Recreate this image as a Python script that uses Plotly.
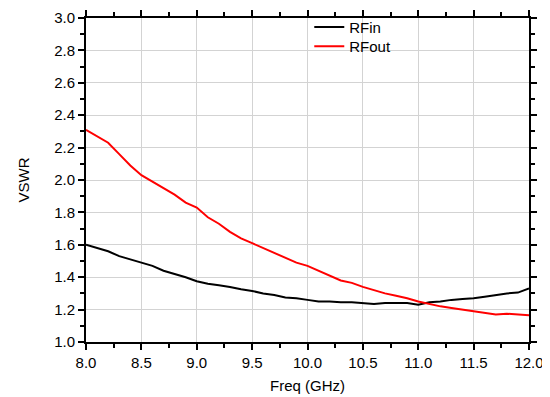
import plotly.graph_objects as go

freq = [8.0, 8.1, 8.2, 8.3, 8.4, 8.5, 8.6, 8.7, 8.8, 8.9,
        9.0, 9.1, 9.2, 9.3, 9.4, 9.5, 9.6, 9.7, 9.8, 9.9,
        10.0, 10.1, 10.2, 10.3, 10.4, 10.5, 10.6, 10.7, 10.8, 10.9,
        11.0, 11.1, 11.2, 11.3, 11.4, 11.5, 11.6, 11.7, 11.8, 11.9, 12.0]

rf_in = [1.60, 1.58, 1.56, 1.53, 1.51, 1.49, 1.47, 1.44, 1.42, 1.40,
         1.375, 1.36, 1.35, 1.34, 1.325, 1.315, 1.30, 1.29, 1.275, 1.27,
         1.26, 1.25, 1.25, 1.245, 1.245, 1.24, 1.235, 1.24, 1.24, 1.24,
         1.23, 1.245, 1.25, 1.26, 1.265, 1.27, 1.28, 1.29, 1.30, 1.305, 1.33]

rf_out = [2.31, 2.27, 2.23, 2.16, 2.09, 2.03, 1.99, 1.95, 1.91, 1.86,
          1.83, 1.77, 1.73, 1.68, 1.64, 1.61, 1.58, 1.55, 1.52, 1.49,
          1.47, 1.44, 1.41, 1.38, 1.365, 1.34, 1.32, 1.30, 1.285, 1.27,
          1.25, 1.235, 1.22, 1.21, 1.20, 1.19, 1.18, 1.17, 1.175, 1.17, 1.165]

fig = go.Figure()
fig.add_trace(go.Scatter(x=freq, y=rf_in, mode="lines", name="RFin",
                         line=dict(color="black", width=2), legend="legend"))
fig.add_trace(go.Scatter(x=freq, y=rf_out, mode="lines", name="RFout",
                         line=dict(color="#ff0000", width=2), legend="legend2"))

axis_common = dict(
    showline=True, linecolor="black", linewidth=2, mirror="ticks",
    ticks="outside", ticklen=6, tickwidth=1.5, tickcolor="black",
    showgrid=True, gridcolor="#d3d3d3", gridwidth=1,
    zeroline=False, tickformat=".1f", automargin=False,
    ticklabeloverflow="allow",
    tickfont=dict(size=15, color="black"),
)

fig.update_xaxes(range=[8.0, 12.0], dtick=0.5,
                 minor=dict(dtick=0.25, ticks="outside", ticklen=4, tickcolor="black", showgrid=False),
                 title=dict(text="Freq (GHz)", font=dict(size=15, color="black"), standoff=10),
                 **axis_common)
fig.update_yaxes(range=[1.0, 3.0], dtick=0.2,
                 minor=dict(dtick=0.1, ticks="outside", ticklen=4, tickcolor="black", showgrid=False),
                 title=dict(text="VSWR", font=dict(size=15, color="black"), standoff=21),
                 **axis_common)

leg_common = dict(xanchor="left", yanchor="top", bgcolor="rgba(0,0,0,0)",
                  font=dict(size=15), itemwidth=30)

fig.update_layout(
    width=542, height=389,
    margin=dict(l=78, r=21, t=10, b=55, autoexpand=False),
    plot_bgcolor="white", paper_bgcolor="white",
    font=dict(family="Liberation Sans, Arial, sans-serif", color="black", size=15),
    legend=dict(x=0.504, y=1.022, **leg_common),
    legend2=dict(x=0.504, y=0.963, **leg_common),
    showlegend=True,
)

fig.write_html("out.html")
